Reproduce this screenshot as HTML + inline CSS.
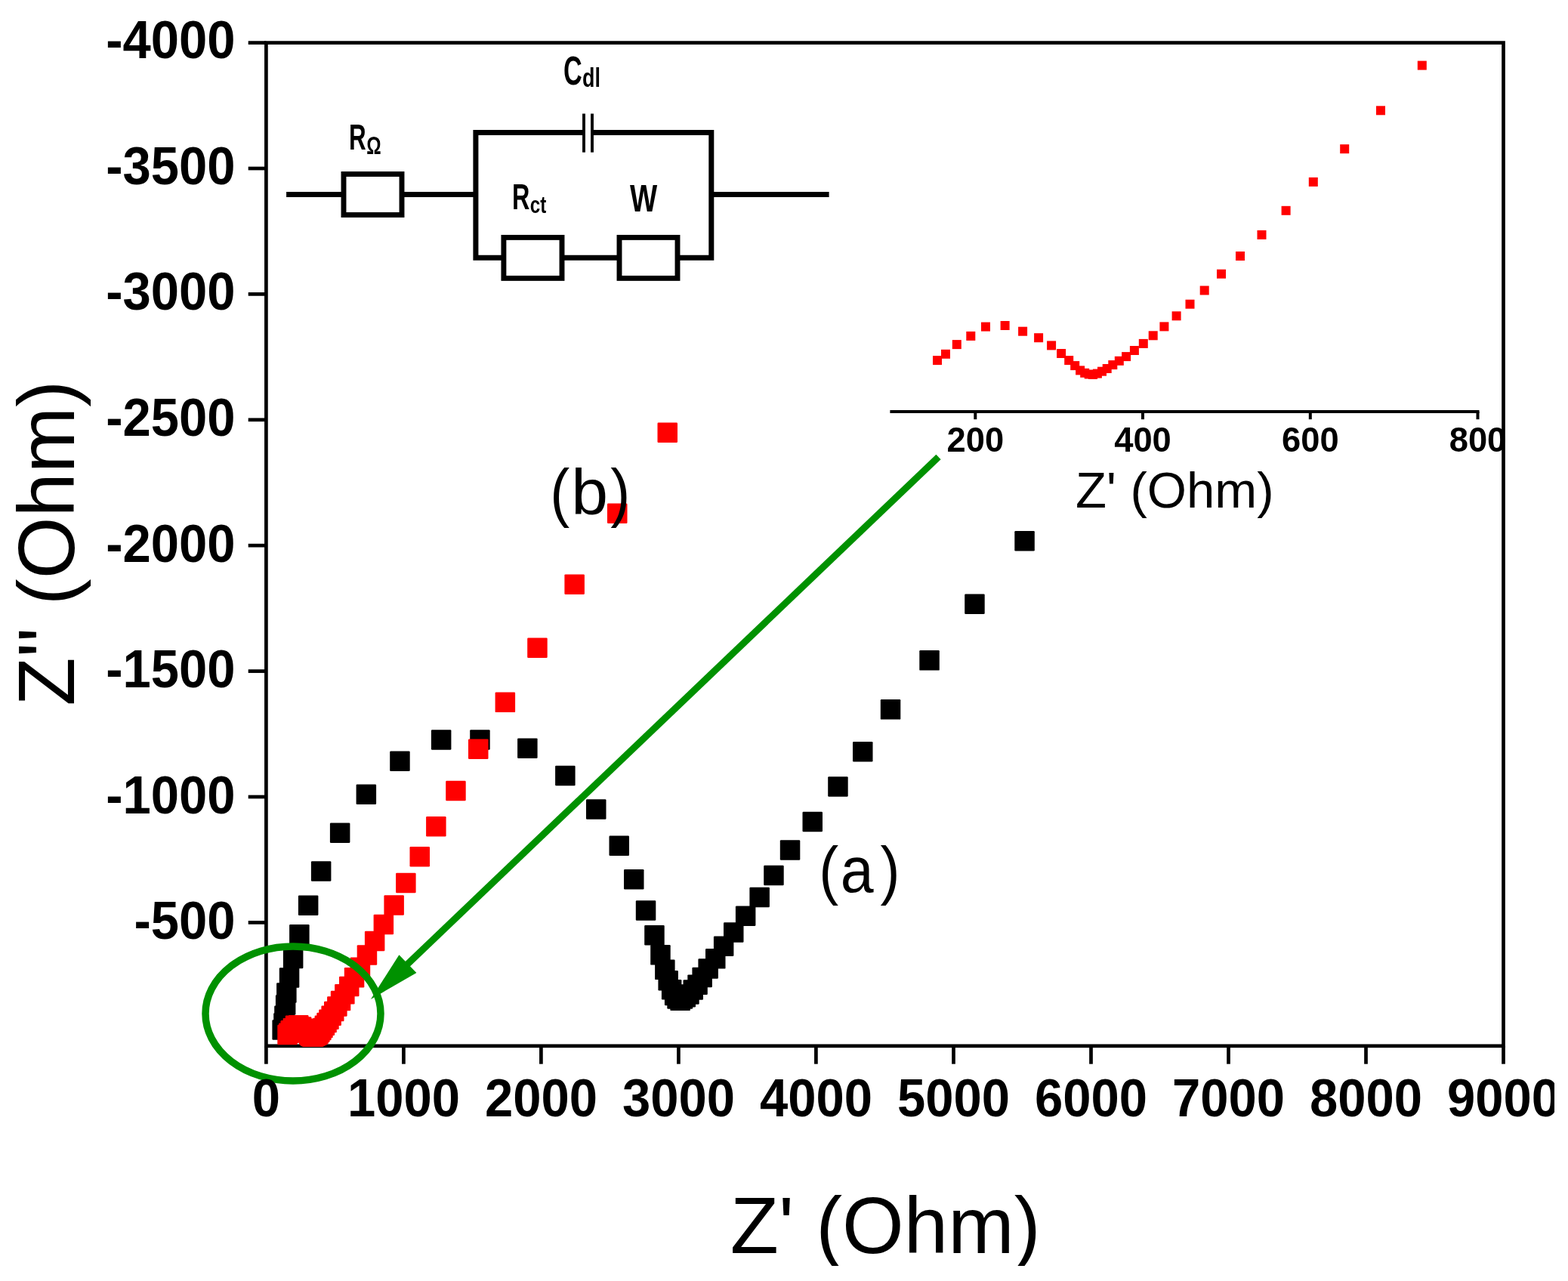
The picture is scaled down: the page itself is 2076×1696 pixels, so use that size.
<!DOCTYPE html>
<html><head><meta charset="utf-8"><title>Nyquist plot</title>
<style>html,body{margin:0;padding:0;background:#fff;}svg{display:block;}text{font-family:"Liberation Sans",Arial,sans-serif;}</style></head><body>
<svg width="2076" height="1696" viewBox="0 0 2076 1696">
<rect x="0" y="0" width="2076" height="1696" fill="#fff"/>
<g stroke="#000" stroke-width="4.7" fill="none" stroke-linecap="square">
<rect x="352.4" y="56.6" width="1638.1" height="1328.2" stroke-linecap="butt"/>
</g>
<g stroke="#000" stroke-width="4.7">
<line x1="328.7" y1="56.6" x2="352.4" y2="56.6"/>
<line x1="328.7" y1="223.0" x2="352.4" y2="223.0"/>
<line x1="328.7" y1="389.4" x2="352.4" y2="389.4"/>
<line x1="328.7" y1="555.8" x2="352.4" y2="555.8"/>
<line x1="328.7" y1="722.2" x2="352.4" y2="722.2"/>
<line x1="328.7" y1="888.6" x2="352.4" y2="888.6"/>
<line x1="328.7" y1="1055.0" x2="352.4" y2="1055.0"/>
<line x1="328.7" y1="1221.4" x2="352.4" y2="1221.4"/>
<line x1="352.4" y1="1384.8" x2="352.4" y2="1408.7"/>
<line x1="534.4" y1="1384.8" x2="534.4" y2="1408.7"/>
<line x1="716.4" y1="1384.8" x2="716.4" y2="1408.7"/>
<line x1="898.4" y1="1384.8" x2="898.4" y2="1408.7"/>
<line x1="1080.4" y1="1384.8" x2="1080.4" y2="1408.7"/>
<line x1="1262.5" y1="1384.8" x2="1262.5" y2="1408.7"/>
<line x1="1444.5" y1="1384.8" x2="1444.5" y2="1408.7"/>
<line x1="1626.5" y1="1384.8" x2="1626.5" y2="1408.7"/>
<line x1="1808.5" y1="1384.8" x2="1808.5" y2="1408.7"/>
<line x1="1990.5" y1="1384.8" x2="1990.5" y2="1408.7"/>
</g>
<g fill="#000">
<rect x="360.4" y="1350.2" width="26.5" height="26.5" rx="1.2"/>
<rect x="362.2" y="1341.2" width="26.5" height="26.5" rx="1.2"/>
<rect x="363.2" y="1331.5" width="26.5" height="26.5" rx="1.2"/>
<rect x="364.9" y="1317.2" width="26.5" height="26.5" rx="1.2"/>
<rect x="366.1" y="1301.2" width="26.5" height="26.5" rx="1.2"/>
<rect x="369.8" y="1281.2" width="26.5" height="26.5" rx="1.2"/>
<rect x="374.9" y="1255.8" width="26.5" height="26.5" rx="1.2"/>
<rect x="383.1" y="1224.0" width="26.5" height="26.5" rx="1.2"/>
<rect x="394.9" y="1185.5" width="26.5" height="26.5" rx="1.2"/>
<rect x="411.9" y="1140.2" width="26.5" height="26.5" rx="1.2"/>
<rect x="436.9" y="1089.5" width="26.5" height="26.5" rx="1.2"/>
<rect x="471.6" y="1038.5" width="26.5" height="26.5" rx="1.2"/>
<rect x="516.2" y="994.5" width="26.5" height="26.5" rx="1.2"/>
<rect x="570.9" y="966.2" width="26.5" height="26.5" rx="1.2"/>
<rect x="622.2" y="966.2" width="26.5" height="26.5" rx="1.2"/>
<rect x="685.1" y="977.4" width="26.5" height="26.5" rx="1.2"/>
<rect x="735.1" y="1013.8" width="26.5" height="26.5" rx="1.2"/>
<rect x="776.0" y="1058.2" width="26.5" height="26.5" rx="1.2"/>
<rect x="806.5" y="1106.5" width="26.5" height="26.5" rx="1.2"/>
<rect x="826.0" y="1151.0" width="26.5" height="26.5" rx="1.2"/>
<rect x="841.8" y="1192.2" width="26.5" height="26.5" rx="1.2"/>
<rect x="853.2" y="1224.9" width="26.5" height="26.5" rx="1.2"/>
<rect x="861.2" y="1251.1" width="26.5" height="26.5" rx="1.2"/>
<rect x="867.1" y="1270.6" width="26.5" height="26.5" rx="1.2"/>
<rect x="871.4" y="1285.0" width="26.5" height="26.5" rx="1.2"/>
<rect x="875.9" y="1297.0" width="26.5" height="26.5" rx="1.2"/>
<rect x="879.9" y="1304.7" width="26.5" height="26.5" rx="1.2"/>
<rect x="883.3" y="1309.3" width="26.5" height="26.5" rx="1.2"/>
<rect x="887.4" y="1311.6" width="26.5" height="26.5" rx="1.2"/>
<rect x="890.7" y="1309.3" width="26.5" height="26.5" rx="1.2"/>
<rect x="894.5" y="1307.0" width="26.5" height="26.5" rx="1.2"/>
<rect x="899.2" y="1303.2" width="26.5" height="26.5" rx="1.2"/>
<rect x="904.5" y="1297.3" width="26.5" height="26.5" rx="1.2"/>
<rect x="910.3" y="1290.4" width="26.5" height="26.5" rx="1.2"/>
<rect x="916.4" y="1280.7" width="26.5" height="26.5" rx="1.2"/>
<rect x="924.4" y="1269.2" width="26.5" height="26.5" rx="1.2"/>
<rect x="934.0" y="1256.1" width="26.5" height="26.5" rx="1.2"/>
<rect x="944.9" y="1239.5" width="26.5" height="26.5" rx="1.2"/>
<rect x="958.0" y="1221.3" width="26.5" height="26.5" rx="1.2"/>
<rect x="973.9" y="1199.4" width="26.5" height="26.5" rx="1.2"/>
<rect x="992.4" y="1174.8" width="26.5" height="26.5" rx="1.2"/>
<rect x="1011.2" y="1145.8" width="26.5" height="26.5" rx="1.2"/>
<rect x="1032.8" y="1112.3" width="26.5" height="26.5" rx="1.2"/>
<rect x="1062.5" y="1074.8" width="26.5" height="26.5" rx="1.2"/>
<rect x="1096.2" y="1028.2" width="26.5" height="26.5" rx="1.2"/>
<rect x="1129.0" y="982.0" width="26.5" height="26.5" rx="1.2"/>
<rect x="1165.8" y="926.1" width="26.5" height="26.5" rx="1.2"/>
<rect x="1217.3" y="861.1" width="26.5" height="26.5" rx="1.2"/>
<rect x="1277.2" y="786.5" width="26.5" height="26.5" rx="1.2"/>
<rect x="1343.3" y="703.0" width="26.5" height="26.5" rx="1.2"/>
</g>
<g fill="#f00">
<rect x="367.3" y="1356.8" width="26.5" height="26.5" rx="1.2"/>
<rect x="369.1" y="1354.5" width="26.5" height="26.5" rx="1.2"/>
<rect x="371.5" y="1351.0" width="26.5" height="26.5" rx="1.2"/>
<rect x="374.6" y="1347.9" width="26.5" height="26.5" rx="1.2"/>
<rect x="377.8" y="1344.5" width="26.5" height="26.5" rx="1.2"/>
<rect x="382.0" y="1344.1" width="26.5" height="26.5" rx="1.2"/>
<rect x="385.9" y="1346.2" width="26.5" height="26.5" rx="1.2"/>
<rect x="389.3" y="1348.6" width="26.5" height="26.5" rx="1.2"/>
<rect x="392.1" y="1351.4" width="26.5" height="26.5" rx="1.2"/>
<rect x="394.2" y="1354.3" width="26.5" height="26.5" rx="1.2"/>
<rect x="395.9" y="1356.8" width="26.5" height="26.5" rx="1.2"/>
<rect x="397.2" y="1357.8" width="26.5" height="26.5" rx="1.2"/>
<rect x="398.3" y="1358.6" width="26.5" height="26.5" rx="1.2"/>
<rect x="399.3" y="1359.1" width="26.5" height="26.5" rx="1.2"/>
<rect x="400.2" y="1359.3" width="26.5" height="26.5" rx="1.2"/>
<rect x="401.1" y="1359.4" width="26.5" height="26.5" rx="1.2"/>
<rect x="402.1" y="1359.2" width="26.5" height="26.5" rx="1.2"/>
<rect x="403.1" y="1358.8" width="26.5" height="26.5" rx="1.2"/>
<rect x="404.2" y="1358.3" width="26.5" height="26.5" rx="1.2"/>
<rect x="405.4" y="1357.6" width="26.5" height="26.5" rx="1.2"/>
<rect x="406.8" y="1356.9" width="26.5" height="26.5" rx="1.2"/>
<rect x="408.4" y="1355.4" width="26.5" height="26.5" rx="1.2"/>
<rect x="410.1" y="1353.2" width="26.5" height="26.5" rx="1.2"/>
<rect x="412.1" y="1350.7" width="26.5" height="26.5" rx="1.2"/>
<rect x="414.2" y="1347.8" width="26.5" height="26.5" rx="1.2"/>
<rect x="416.6" y="1344.5" width="26.5" height="26.5" rx="1.2"/>
<rect x="419.3" y="1340.7" width="26.5" height="26.5" rx="1.2"/>
<rect x="422.2" y="1336.5" width="26.5" height="26.5" rx="1.2"/>
<rect x="425.4" y="1331.5" width="26.5" height="26.5" rx="1.2"/>
<rect x="429.0" y="1325.7" width="26.5" height="26.5" rx="1.2"/>
<rect x="433.1" y="1319.3" width="26.5" height="26.5" rx="1.2"/>
<rect x="437.8" y="1311.7" width="26.5" height="26.5" rx="1.2"/>
<rect x="443.1" y="1303.0" width="26.5" height="26.5" rx="1.2"/>
<rect x="449.0" y="1292.8" width="26.5" height="26.5" rx="1.2"/>
<rect x="455.8" y="1281.0" width="26.5" height="26.5" rx="1.2"/>
<rect x="463.7" y="1267.5" width="26.5" height="26.5" rx="1.2"/>
<rect x="472.7" y="1251.2" width="26.5" height="26.5" rx="1.2"/>
<rect x="482.9" y="1232.8" width="26.5" height="26.5" rx="1.2"/>
<rect x="494.6" y="1210.7" width="26.5" height="26.5" rx="1.2"/>
<rect x="508.4" y="1185.3" width="26.5" height="26.5" rx="1.2"/>
<rect x="524.1" y="1155.7" width="26.5" height="26.5" rx="1.2"/>
<rect x="542.5" y="1121.0" width="26.5" height="26.5" rx="1.2"/>
<rect x="564.1" y="1081.0" width="26.5" height="26.5" rx="1.2"/>
<rect x="590.2" y="1033.7" width="26.5" height="26.5" rx="1.2"/>
<rect x="620.0" y="978.4" width="26.5" height="26.5" rx="1.2"/>
<rect x="655.6" y="916.6" width="26.5" height="26.5" rx="1.2"/>
<rect x="698.2" y="844.5" width="26.5" height="26.5" rx="1.2"/>
<rect x="747.4" y="760.4" width="26.5" height="26.5" rx="1.2"/>
<rect x="804.0" y="666.5" width="26.5" height="26.5" rx="1.2"/>
<rect x="870.5" y="559.5" width="26.5" height="26.5" rx="1.2"/>
</g>
<g stroke="#000" stroke-width="4">
<line x1="1178.4" y1="544.9" x2="1958.5" y2="544.9"/>
<line x1="1291.3" y1="544.9" x2="1291.3" y2="555.2"/>
<line x1="1513.0" y1="544.9" x2="1513.0" y2="555.2"/>
<line x1="1734.8" y1="544.9" x2="1734.8" y2="555.2"/>
<line x1="1956.5" y1="544.9" x2="1956.5" y2="555.2"/>
</g>
<g fill="#f00">
<rect x="1235.0" y="471.1" width="12.0" height="12.0"/>
<rect x="1246.0" y="462.8" width="12.0" height="12.0"/>
<rect x="1260.8" y="450.1" width="12.0" height="12.0"/>
<rect x="1279.3" y="438.9" width="12.0" height="12.0"/>
<rect x="1299.0" y="426.6" width="12.0" height="12.0"/>
<rect x="1324.6" y="425.0" width="12.0" height="12.0"/>
<rect x="1348.1" y="432.7" width="12.0" height="12.0"/>
<rect x="1369.1" y="441.2" width="12.0" height="12.0"/>
<rect x="1386.1" y="451.4" width="12.0" height="12.0"/>
<rect x="1399.1" y="462.0" width="12.0" height="12.0"/>
<rect x="1409.2" y="471.1" width="12.0" height="12.0"/>
<rect x="1417.2" y="478.1" width="12.0" height="12.0"/>
<rect x="1424.1" y="484.4" width="12.0" height="12.0"/>
<rect x="1430.2" y="487.8" width="12.0" height="12.0"/>
<rect x="1435.7" y="489.5" width="12.0" height="12.0"/>
<rect x="1441.0" y="490.0" width="12.0" height="12.0"/>
<rect x="1446.9" y="488.6" width="12.0" height="12.0"/>
<rect x="1453.0" y="485.7" width="12.0" height="12.0"/>
<rect x="1459.7" y="482.0" width="12.0" height="12.0"/>
<rect x="1467.3" y="477.1" width="12.0" height="12.0"/>
<rect x="1475.8" y="471.8" width="12.0" height="12.0"/>
<rect x="1485.1" y="466.1" width="12.0" height="12.0"/>
<rect x="1495.9" y="458.0" width="12.0" height="12.0"/>
<rect x="1507.8" y="448.9" width="12.0" height="12.0"/>
<rect x="1520.7" y="438.3" width="12.0" height="12.0"/>
<rect x="1535.4" y="426.4" width="12.0" height="12.0"/>
<rect x="1551.6" y="412.3" width="12.0" height="12.0"/>
<rect x="1569.5" y="396.7" width="12.0" height="12.0"/>
<rect x="1588.7" y="378.5" width="12.0" height="12.0"/>
<rect x="1611.0" y="356.7" width="12.0" height="12.0"/>
<rect x="1636.0" y="333.0" width="12.0" height="12.0"/>
<rect x="1664.5" y="304.9" width="12.0" height="12.0"/>
<rect x="1696.6" y="272.8" width="12.0" height="12.0"/>
<rect x="1732.8" y="234.9" width="12.0" height="12.0"/>
<rect x="1774.2" y="191.2" width="12.0" height="12.0"/>
<rect x="1822.0" y="140.3" width="12.0" height="12.0"/>
<rect x="1876.8" y="80.6" width="12.0" height="12.0"/>
</g>
<g stroke="#000" stroke-width="7" fill="none" stroke-linejoin="miter">
<line x1="379.1" y1="257.6" x2="455" y2="257.6"/>
<line x1="532" y1="257.6" x2="630" y2="257.6"/>
<line x1="941.8" y1="257.6" x2="1097.6" y2="257.6"/>
<path d="M773,175.6 H629.9 V341.3 H941.8 V175.6 H784"/>
</g>
<g stroke="#000" stroke-width="3.9">
<line x1="773" y1="150.5" x2="773" y2="201.7"/>
<line x1="784" y1="150.5" x2="784" y2="201.7"/>
</g>
<g stroke="#000" stroke-width="6.9" fill="#fff">
<rect x="455" y="230.5" width="77" height="54"/>
<rect x="666.9" y="314.4" width="77.1" height="54"/>
<rect x="820" y="314.4" width="77" height="54"/>
</g>
<ellipse cx="388" cy="1342" rx="116" ry="89" fill="none" stroke="#009100" stroke-width="9.5"/>
<line x1="1242.5" y1="605" x2="532.7" y2="1283.0" stroke="#009100" stroke-width="9"/>
<polygon points="490.9,1323.0 528.4,1264.2 551.4,1288.0" fill="#009100"/>
<text transform="translate(311.5,77.2) scale(1.0000,1.0400)" x="0" y="0" font-size="67" font-weight="bold" text-anchor="end">-4000</text>
<text transform="translate(311.5,243.8) scale(1.0000,1.0400)" x="0" y="0" font-size="67" font-weight="bold" text-anchor="end">-3500</text>
<text transform="translate(311.5,410.4) scale(1.0000,1.0400)" x="0" y="0" font-size="67" font-weight="bold" text-anchor="end">-3000</text>
<text transform="translate(311.5,577.0) scale(1.0000,1.0400)" x="0" y="0" font-size="67" font-weight="bold" text-anchor="end">-2500</text>
<text transform="translate(311.5,743.6) scale(1.0000,1.0400)" x="0" y="0" font-size="67" font-weight="bold" text-anchor="end">-2000</text>
<text transform="translate(311.5,910.2) scale(1.0000,1.0400)" x="0" y="0" font-size="67" font-weight="bold" text-anchor="end">-1500</text>
<text transform="translate(311.5,1076.8) scale(1.0000,1.0400)" x="0" y="0" font-size="67" font-weight="bold" text-anchor="end">-1000</text>
<text transform="translate(311.5,1243.4) scale(1.0000,1.0400)" x="0" y="0" font-size="67" font-weight="bold" text-anchor="end">-500</text>
<text transform="translate(352.4,1477.6) scale(1.0000,1.0400)" x="0" y="0" font-size="67" font-weight="bold" text-anchor="middle">0</text>
<text transform="translate(534.4,1477.6) scale(1.0000,1.0400)" x="0" y="0" font-size="67" font-weight="bold" text-anchor="middle">1000</text>
<text transform="translate(716.4,1477.6) scale(1.0000,1.0400)" x="0" y="0" font-size="67" font-weight="bold" text-anchor="middle">2000</text>
<text transform="translate(898.4,1477.6) scale(1.0000,1.0400)" x="0" y="0" font-size="67" font-weight="bold" text-anchor="middle">3000</text>
<text transform="translate(1080.4,1477.6) scale(1.0000,1.0400)" x="0" y="0" font-size="67" font-weight="bold" text-anchor="middle">4000</text>
<text transform="translate(1262.5,1477.6) scale(1.0000,1.0400)" x="0" y="0" font-size="67" font-weight="bold" text-anchor="middle">5000</text>
<text transform="translate(1444.5,1477.6) scale(1.0000,1.0400)" x="0" y="0" font-size="67" font-weight="bold" text-anchor="middle">6000</text>
<text transform="translate(1626.5,1477.6) scale(1.0000,1.0400)" x="0" y="0" font-size="67" font-weight="bold" text-anchor="middle">7000</text>
<text transform="translate(1808.5,1477.6) scale(1.0000,1.0400)" x="0" y="0" font-size="67" font-weight="bold" text-anchor="middle">8000</text>
<text transform="translate(1990.5,1477.6) scale(1.0000,1.0400)" x="0" y="0" font-size="67" font-weight="bold" text-anchor="middle">9000</text>
<text transform="translate(1291.3,597.8) scale(1.0000,1.0400)" x="0" y="0" font-size="45.3" font-weight="bold" text-anchor="middle">200</text>
<text transform="translate(1513.0,597.8) scale(1.0000,1.0400)" x="0" y="0" font-size="45.3" font-weight="bold" text-anchor="middle">400</text>
<text transform="translate(1734.8,597.8) scale(1.0000,1.0400)" x="0" y="0" font-size="45.3" font-weight="bold" text-anchor="middle">600</text>
<text transform="translate(1956.5,597.8) scale(1.0000,1.0400)" x="0" y="0" font-size="45.3" font-weight="bold" text-anchor="middle">800</text>
<text transform="translate(966.8,1658.6) scale(1.0000,1.0000)" x="0" y="0" font-size="105" font-weight="normal" text-anchor="start">Z&#39; (Ohm)</text>
<text transform="translate(97.9,934.6) rotate(-90)" x="0" y="0" font-size="105">Z&#39;&#39; (Ohm)</text>
<text transform="translate(1424.0,671.5) scale(1.0000,1.0000)" x="0" y="0" font-size="67.1" font-weight="normal" text-anchor="start">Z&#39; (Ohm)</text>
<text transform="translate(1084.3,1180.7) scale(0.9080,1.0000)" x="0" y="0" font-size="86" font-weight="normal" text-anchor="start">(</text>
<text transform="translate(1112.8,1180.7) scale(0.9170,1.0000)" x="0" y="0" font-size="86" font-weight="normal" text-anchor="start">a</text>
<text transform="translate(1165.4,1180.7) scale(0.9080,1.0000)" x="0" y="0" font-size="86" font-weight="normal" text-anchor="start">)</text>
<text transform="translate(728.3,680.8) scale(0.9080,1.0000)" x="0" y="0" font-size="86" font-weight="normal" text-anchor="start">(</text>
<text transform="translate(756.3,680.8) scale(1.0200,1.0000)" x="0" y="0" font-size="86" font-weight="normal" text-anchor="start">b</text>
<text transform="translate(808.2,680.8) scale(0.9080,1.0000)" x="0" y="0" font-size="86" font-weight="normal" text-anchor="start">)</text>
<text transform="translate(462.0,197.6) scale(0.6400,1.0000)" x="0" y="0" font-size="49" font-weight="bold" text-anchor="start">R</text>
<text transform="translate(485.3,204.1) scale(0.7140,1.0000)" x="0" y="0" font-size="33.9" font-weight="bold" text-anchor="start">&#937;</text>
<text transform="translate(745.9,112.4) scale(0.6350,1.0000)" x="0" y="0" font-size="54" font-weight="bold" text-anchor="start">C</text>
<text transform="translate(771.0,115.1) scale(0.7600,1.0000)" x="0" y="0" font-size="35.4" font-weight="bold" text-anchor="start">dl</text>
<text transform="translate(678.0,277.0) scale(0.6600,1.0000)" x="0" y="0" font-size="49" font-weight="bold" text-anchor="start">R</text>
<text transform="translate(701.7,282.3) scale(0.7800,1.0000)" x="0" y="0" font-size="31" font-weight="bold" text-anchor="start">ct</text>
<text transform="translate(833.9,279.5) scale(0.7600,1.0000)" x="0" y="0" font-size="50.5" font-weight="bold" text-anchor="start">W</text>
<rect x="2058" y="0" width="18" height="1696" fill="#fff"/>
<rect x="0" y="1676" width="2076" height="20" fill="#fff"/>
</svg></body></html>
